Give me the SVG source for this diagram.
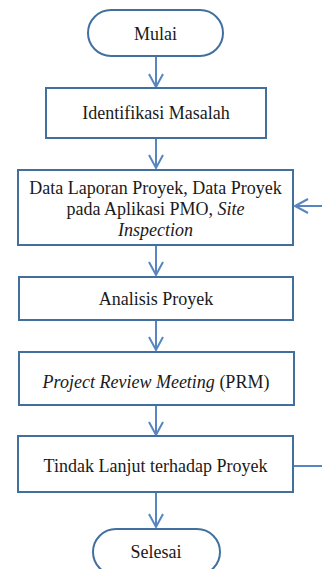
<svg xmlns="http://www.w3.org/2000/svg" width="322" height="569" viewBox="0 0 322 569">
  <style>
    .box { fill: #ffffff; stroke: #41709f; stroke-width: 2; }
    .lbl { font-family: "Liberation Serif", "Times New Roman", serif; font-size: 18px; fill: #1a1a1a; text-anchor: middle; }
    .it { font-style: italic; }
    .conn { fill: none; stroke: #5685c0; stroke-width: 2; }
  </style>
  <defs>
    <marker id="arrow" markerUnits="userSpaceOnUse" markerWidth="20" markerHeight="20" refX="14" refY="8" orient="auto" viewBox="0 0 20 16">
      <path d="M1,1 L14,8 L1,15" fill="none" stroke="#5685c0" stroke-width="2"/>
    </marker>
  </defs>
  <rect width="322" height="569" fill="#ffffff"/>

  <!-- connectors -->
  <g id="connectors">
    <line class="conn" x1="156" y1="56" x2="156" y2="87" marker-end="url(#arrow)"/>
    <line class="conn" x1="156" y1="138" x2="156" y2="168" marker-end="url(#arrow)"/>
    <line class="conn" x1="156" y1="245" x2="156" y2="275" marker-end="url(#arrow)"/>
    <line class="conn" x1="156" y1="320" x2="156" y2="350" marker-end="url(#arrow)"/>
    <line class="conn" x1="156" y1="405" x2="156" y2="435" marker-end="url(#arrow)"/>
    <line class="conn" x1="156" y1="492" x2="156" y2="527" marker-end="url(#arrow)"/>
    <!-- feedback loop on the right -->
    <line class="conn" x1="322" y1="206" x2="295" y2="206" marker-end="url(#arrow)"/>
    <line class="conn" x1="293" y1="466" x2="322" y2="466"/>
  </g>

  <g id="mulai">
    <rect class="box" x="88" y="10" width="135" height="46" rx="23" ry="23"/>
    <text class="lbl" x="155.5" y="40">Mulai</text>
  </g>

  <g id="identifikasi">
    <rect class="box" x="46" y="88" width="220" height="50"/>
    <text class="lbl" x="156" y="119">Identifikasi Masalah</text>
  </g>

  <g id="data">
    <rect class="box" x="18" y="170" width="275" height="75"/>
    <text class="lbl" x="155.5" y="194">Data Laporan Proyek, Data Proyek</text>
    <text class="lbl" x="155.5" y="215">pada Aplikasi PMO, <tspan class="it">Site</tspan></text>
    <text class="lbl it" x="155.5" y="236">Inspection</text>
  </g>

  <g id="analisis">
    <rect class="box" x="19" y="277" width="274" height="43"/>
    <text class="lbl" x="156" y="305">Analisis Proyek</text>
  </g>

  <g id="prm">
    <rect class="box" x="19" y="352" width="275" height="53"/>
    <text class="lbl" x="156" y="388"><tspan class="it">Project Review Meeting</tspan> (PRM)</text>
  </g>

  <g id="tindak">
    <rect class="box" x="18" y="436" width="275" height="56"/>
    <text class="lbl" x="155.5" y="472">Tindak Lanjut terhadap Proyek</text>
  </g>

  <g id="selesai">
    <rect class="box" x="93" y="529" width="127" height="46" rx="23" ry="23"/>
    <text class="lbl" x="156" y="558">Selesai</text>
  </g>
</svg>
